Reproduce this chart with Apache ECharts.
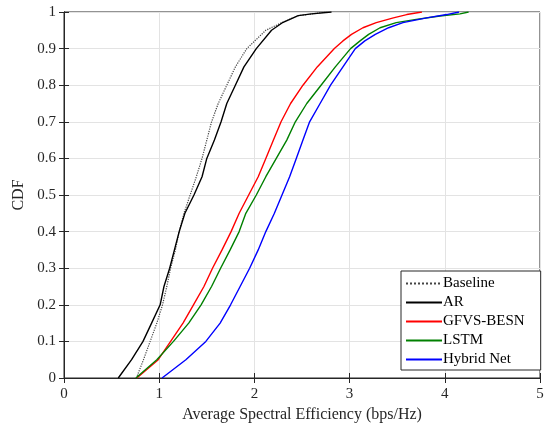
<!DOCTYPE html>
<html><head><meta charset="utf-8">
<script src="https://cdn.jsdelivr.net/npm/echarts@6/dist/echarts.min.js"></script>
<style>html,body{margin:0;padding:0;background:#fff}#c{width:549px;height:428px}</style>
</head><body><div id="c"></div>
<script>
var xTicks = [0, 1, 2, 3, 4, 5];
var yTicks = [0, 0.1, 0.2, 0.3, 0.4, 0.5, 0.6, 0.7, 0.8, 0.9, 1];

var baselineX = [0.76, 0.835, 0.905, 0.975, 1.035, 1.08, 1.12, 1.17, 1.21, 1.26, 1.325, 1.39, 1.45, 1.50, 1.55, 1.62, 1.71, 1.80, 1.92, 2.12, 2.28, 2.46, 2.76];
var baselineY = [0, 0.05, 0.1, 0.15, 0.2, 0.25, 0.3, 0.35, 0.4, 0.45, 0.5, 0.55, 0.6, 0.65, 0.7, 0.75, 0.8, 0.85, 0.9, 0.95, 0.97, 0.99, 1.0];

var arX = [0.57, 0.71, 0.83, 0.92, 1.01, 1.05, 1.11, 1.16, 1.21, 1.27, 1.365, 1.45, 1.50, 1.58, 1.65, 1.71, 1.80, 1.89, 2.02, 2.18, 2.29, 2.46, 2.60, 2.81];
var arY = [0, 0.05, 0.1, 0.15, 0.2, 0.25, 0.3, 0.35, 0.4, 0.45, 0.5, 0.55, 0.6, 0.65, 0.7, 0.75, 0.8, 0.85, 0.9, 0.95, 0.97, 0.99, 0.995, 1.0];

var gfvsX = [0.765, 0.99, 1.12, 1.25, 1.36, 1.47, 1.56, 1.66, 1.755, 1.84, 1.94, 2.04, 2.12, 2.20, 2.28, 2.38, 2.51, 2.66, 2.84, 2.93, 3.02, 3.14, 3.28, 3.46, 3.60, 3.76];
var gfvsY = [0, 0.05, 0.1, 0.15, 0.2, 0.25, 0.3, 0.35, 0.4, 0.45, 0.5, 0.55, 0.6, 0.65, 0.7, 0.75, 0.8, 0.85, 0.9, 0.921, 0.939, 0.957, 0.971, 0.984, 0.993, 1.0];

var lstmX = [0.755, 0.975, 1.15, 1.31, 1.44, 1.55, 1.645, 1.745, 1.84, 1.91, 2.02, 2.12, 2.23, 2.34, 2.43, 2.55, 2.70, 2.85, 3.01, 3.11, 3.20, 3.32, 3.49, 3.70, 3.95, 4.16, 4.25];
var lstmY = [0, 0.05, 0.1, 0.15, 0.2, 0.25, 0.3, 0.35, 0.4, 0.45, 0.5, 0.55, 0.6, 0.65, 0.7, 0.75, 0.8, 0.85, 0.9, 0.921, 0.939, 0.957, 0.971, 0.980, 0.989, 0.995, 1.0];

var hybridX = [1.03, 1.28, 1.49, 1.64, 1.75, 1.85, 1.95, 2.04, 2.12, 2.21, 2.29, 2.37, 2.44, 2.51, 2.58, 2.69, 2.80, 2.93, 3.06, 3.16, 3.27, 3.41, 3.56, 3.81, 4.02, 4.15];
var hybridY = [0, 0.05, 0.1, 0.15, 0.2, 0.25, 0.3, 0.35, 0.4, 0.45, 0.5, 0.55, 0.6, 0.65, 0.7, 0.75, 0.8, 0.85, 0.9, 0.921, 0.939, 0.957, 0.971, 0.984, 0.993, 1.0];

function pairs(xs, ys) { return xs.map(function (x, i) { return [x, ys[i]]; }); }

var FONT = '"Liberation Serif", "Times New Roman", serif';
var chart = echarts.init(document.getElementById('c'), null, {renderer: 'canvas'});

function mk(name, xs, ys, color, type) {
  return {
    name: name, type: 'line', data: pairs(xs, ys), symbol: 'none', smooth: false,
    lineStyle: {color: color, width: type === 'dotted' ? 1.2 : 1.4, type: type || 'solid'},
    itemStyle: {color: color},
    xAxisIndex: 0, yAxisIndex: 0
  };
}

var axisLineStyle = {color: '#262626', width: 1};
chart.setOption({
  animation: false,
  backgroundColor: '#fff',
  grid: {left: 64, right: 9, top: 12, bottom: 50, show: true, borderColor: '#262626', borderWidth: 1, containLabel: false},
  xAxis: [{
    type: 'value', min: 0, max: 5, interval: 1,
    axisLine: {show: true, lineStyle: axisLineStyle},
    axisTick: {show: true, inside: true, length: 5, lineStyle: axisLineStyle},
    axisLabel: {color: '#262626', fontFamily: FONT, fontSize: 15, margin: 9},
    splitLine: {show: true, lineStyle: {color: '#e3e3e3', width: 1}},
    name: 'Average Spectral Efficiency (bps/Hz)', nameLocation: 'middle', nameGap: 28,
    nameTextStyle: {color: '#262626', fontFamily: FONT, fontSize: 16}
  }, {
    type: 'value', min: 0, max: 5, interval: 1, position: 'top',
    axisLine: {show: true, lineStyle: axisLineStyle},
    axisTick: {show: true, inside: true, length: 5, lineStyle: axisLineStyle},
    axisLabel: {show: false}, splitLine: {show: false}
  }],
  yAxis: [{
    type: 'value', min: 0, max: 1, interval: 0.1,
    axisLine: {show: true, lineStyle: axisLineStyle},
    axisTick: {show: true, inside: true, length: 5, lineStyle: axisLineStyle},
    axisLabel: {color: '#262626', fontFamily: FONT, fontSize: 15, margin: 8,
      formatter: function (v) { return String(Math.round(v * 10) / 10); }},
    splitLine: {show: true, lineStyle: {color: '#e3e3e3', width: 1}},
    name: 'CDF', nameLocation: 'middle', nameGap: 28, nameRotate: 90,
    nameTextStyle: {color: '#262626', fontFamily: FONT, fontSize: 16}
  }, {
    type: 'value', min: 0, max: 1, interval: 0.1, position: 'right',
    axisLine: {show: true, lineStyle: axisLineStyle},
    axisTick: {show: true, inside: true, length: 5, lineStyle: axisLineStyle},
    axisLabel: {show: false}, splitLine: {show: false}
  }],
  legend: {
    orient: 'vertical', left: 401, top: 271, itemWidth: 36, itemHeight: 10, itemGap: 4,
    padding: [5, 16, 3, 4],
    backgroundColor: '#fff', borderColor: '#262626', borderWidth: 1, borderRadius: 0,
    itemStyle: {opacity: 0},
    textStyle: {fontFamily: FONT, fontSize: 15, color: '#000', padding: [0, 0, 0, -4]},
    data: ['Baseline', 'AR', 'GFVS-BESN', 'LSTM', 'Hybrid Net']
  },
  series: [
    mk('Baseline', baselineX, baselineY, '#444444', 'dotted'),
    mk('AR', arX, arY, '#000000'),
    mk('GFVS-BESN', gfvsX, gfvsY, '#ff0000'),
    mk('LSTM', lstmX, lstmY, '#008000'),
    mk('Hybrid Net', hybridX, hybridY, '#0000ff')
  ]
});
</script></body></html>
